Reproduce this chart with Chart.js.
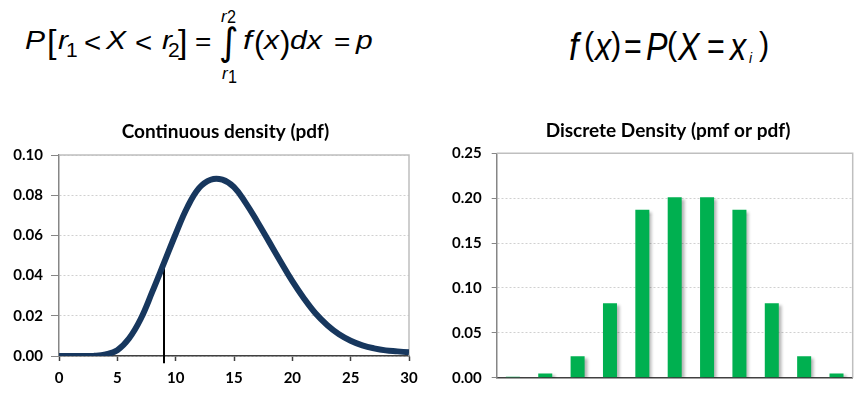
<!DOCTYPE html>
<html>
<head>
<meta charset="utf-8">
<script src="https://cdn.jsdelivr.net/npm/chart.js@4.4.0/dist/chart.umd.min.js"></script>
<style>
  html, body { margin: 0; padding: 0; background: #fff; }
  #page { position: relative; width: 865px; height: 398px; overflow: hidden; background: #fff; }
  .box { position: absolute; }
  .eq { position: absolute; line-height: 1; white-space: nowrap; color: #000; transform-origin: left center; }
</style>
</head>
<body>
<div id="page">
  <div id="eqs"></div>
  <div class="box" style="left:0;top:110px;"><canvas id="pdfChart" width="451" height="288"></canvas></div>
  <div class="box" style="left:440px;top:110px;"><canvas id="pmfChart" width="456" height="288"></canvas></div>
</div>
<script>
// continuous density
const pdfX = [0, 1, 2, 3, 4, 5, 6, 7, 8, 9, 10, 11, 12, 13, 14, 15, 16, 17, 18, 19, 20, 21, 22, 23, 24, 25, 26, 27, 28, 29, 30];
const pdfY = [0, 0, 0, 0.0001, 0.0008, 0.0029, 0.0087, 0.0184, 0.032, 0.0463, 0.0607, 0.074, 0.0835, 0.0877, 0.0877,
              0.084, 0.0762, 0.0668, 0.0569, 0.0469, 0.0372, 0.0286, 0.0211, 0.0153, 0.0108, 0.0076, 0.0053, 0.0038, 0.0028, 0.0023, 0.0018];

// the r1 marker under the curve
const markerX = [9, 9];
const markerY = [-0.0036, 0.0447];

// discrete density bars
const pmfCats = ['0', '1', '2', '3', '4', '5', '6', '7', '8', '9', '10'];
const pmfVals = [0.001, 0.0048, 0.024, 0.083, 0.187, 0.201, 0.201, 0.187, 0.083, 0.024, 0.0048];

const pdfTicks = { min: 0, max: 0.1, step: 0.02 };
const pmfTicks = { min: 0, max: 0.25, step: 0.05 };

// equations as positioned text: [text, left, baseline, size, italic, scaleX, family]
const SANS = '"Liberation Sans", Arial, sans-serif';
const eqLeft = [
  ['P', 25, 49, 25, true, 1.2], ['[', 47, 53, 34, false, 1], ['r', 58, 49, 25, true, 1.2], ['1', 66, 57, 21, false, 1],
  ['<', 84, 53, 28, false, 1.05], ['X', 106, 49, 25, true, 1.2], ['<', 135, 53, 28, false, 1.05],
  ['r', 161.5, 49, 25, true, 1.2], ['2', 168, 57, 21, false, 1], [']', 178, 53, 34, false, 1], ['=', 195, 50, 25, false, 1.12],
  ['\u222B', 219, 55, 38, false, 1, '"DejaVu Sans"'],
  ['r', 221, 22, 17, true, 1], ['2', 226.5, 23.3, 18, false, 0.9], ['r', 222, 79, 17, true, 1], ['1', 227.5, 83.3, 18, false, 0.9],
  ['f', 243, 49, 25, true, 1.3], ['(', 254, 53.5, 31, false, 1], ['x', 264, 49, 25, true, 1.2], [')', 280, 53.5, 31, false, 1],
  ['d', 290, 49, 25, true, 1.2], ['x', 307, 49, 25, true, 1.2], ['=', 334, 50, 25, false, 1.12], ['p', 356, 49, 25, true, 1.2]
];
const eqRight = [
  ['f', 569, 60.5, 38, true, 0.9], ['(', 584, 54.6, 34, false, 0.9], ['x', 595, 60.5, 38, true, 0.85], [')', 611, 54.6, 34, false, 0.9],
  ['=', 624, 60, 38, false, 0.8], ['P', 646, 60.5, 38, true, 0.85], ['(', 667, 54.6, 34, false, 0.9], ['X', 678, 60.5, 38, true, 0.85],
  ['=', 707, 60, 38, false, 0.8], ['x', 730, 60.5, 38, true, 0.85], ['i', 749, 63.3, 14, true, 1], [')', 759, 54.6, 34, false, 0.9]
];

function placeEq(pieces) {
  const host = document.getElementById('eqs');
  pieces.forEach(p => {
    const s = document.createElement('span');
    s.className = 'eq';
    s.textContent = p[0];
    s.style.fontFamily = p[6] || SANS;
    s.style.fontSize = p[3] + 'px';
    s.style.fontStyle = p[4] ? 'italic' : 'normal';
    s.style.left = p[1] + 'px';
    s.style.top = (p[2] - 0.8465 * p[3]) + 'px';
    s.style.transform = 'scaleX(' + p[5] + ')';
    host.appendChild(s);
  });
}
placeEq(eqLeft);
placeEq(eqRight);

const tickFont = { family: 'Lato', size: 15, weight: 'bold' };
const titleFont = { family: 'Lato', size: 19, weight: 'bold' };

// light frame on the top and right of the plot area
const frame = {
  id: 'frame',
  beforeDatasetsDraw(chart) {
    const a = chart.chartArea, ctx = chart.ctx;
    ctx.save();
    ctx.strokeStyle = '#bfbfbf';
    ctx.lineWidth = 1.5;
    ctx.beginPath();
    ctx.moveTo(a.left, a.top);
    ctx.lineTo(a.right, a.top);
    ctx.lineTo(a.right, a.bottom);
    ctx.stroke();
    ctx.restore();
  }
};

// soft drop shadow behind the bars
const barShadow = {
  id: 'barShadow',
  beforeDatasetsDraw(chart) {
    const ctx = chart.ctx;
    ctx.save();
    ctx.shadowColor = 'rgba(0,0,0,0.3)';
    ctx.shadowBlur = 3;
    ctx.shadowOffsetX = 3;
    ctx.shadowOffsetY = 2;
  },
  afterDatasetsDraw(chart) {
    chart.ctx.restore();
  }
};

// empty right-hand axis, only there to keep the title centred where the original has it
function spacer(w) {
  return {
    position: 'right',
    ticks: { display: false },
    grid: { display: false },
    border: { display: false },
    afterFit(s) { s.width = w; }
  };
}

new Chart(document.getElementById('pdfChart'), {
  type: 'line',
  data: {
    datasets: [
      {
        data: pdfX.map((x, i) => ({ x: x, y: pdfY[i] })),
        borderColor: '#17375E',
        borderWidth: 6,
        pointRadius: 0,
        tension: 0.4,
        fill: false
      },
      {
        data: markerX.map((x, i) => ({ x: x, y: markerY[i] })),
        borderColor: '#000',
        borderWidth: 2,
        pointRadius: 0,
        clip: false,
        fill: false
      }
    ]
  },
  options: {
    responsive: false,
    animation: false,
    events: [],
    layout: { padding: 0 },
    plugins: {
      legend: { display: false },
      tooltip: { enabled: false },
      title: {
        display: true,
        text: 'Continuous density (pdf)',
        color: '#000',
        font: titleFont,
        padding: { top: 10.3, bottom: 11.9 }
      }
    },
    scales: {
      x: {
        type: 'linear',
        min: 0,
        max: 30,
        ticks: { stepSize: 5, color: '#000', font: tickFont, padding: 8, maxRotation: 0 },
        grid: { drawOnChartArea: false, tickLength: 5, tickColor: '#404040', tickWidth: 1.5 },
        border: { color: '#404040', width: 1.5 },
        afterFit(s) { s.height = 42; }
      },
      y: {
        min: pdfTicks.min,
        max: pdfTicks.max,
        ticks: { stepSize: pdfTicks.step, color: '#000', font: tickFont, padding: 8, callback: v => v.toFixed(2) },
        grid: { color: '#d0d0d0', tickColor: '#868686', tickLength: 8 },
        border: { color: '#868686', width: 1.5, dash: [2, 2] },
        afterFit(s) { s.width = 59; }
      },
      pad: spacer(42)
    }
  },
  plugins: [frame]
});

new Chart(document.getElementById('pmfChart'), {
  type: 'bar',
  data: {
    labels: pmfCats,
    datasets: [{
      data: pmfVals,
      backgroundColor: '#00B050',
      categoryPercentage: 1,
      barPercentage: 0.433
    }]
  },
  options: {
    responsive: false,
    animation: false,
    events: [],
    layout: { padding: 0 },
    plugins: {
      legend: { display: false },
      tooltip: { enabled: false },
      title: {
        display: true,
        text: 'Discrete Density (pmf or pdf)',
        color: '#000',
        font: titleFont,
        padding: { top: 9.6, bottom: 10.9 }
      }
    },
    scales: {
      x: {
        ticks: { display: false },
        grid: { display: false },
        border: { color: '#404040', width: 1.5 },
        afterFit(s) { s.height = 20.3; }
      },
      y: {
        min: pmfTicks.min,
        max: pmfTicks.max,
        ticks: { stepSize: pmfTicks.step, color: '#000', font: tickFont, padding: 10, callback: v => v.toFixed(2) },
        grid: { color: '#d0d0d0', tickColor: '#868686', tickLength: 5 },
        border: { color: '#868686', width: 1.5, dash: [2, 2] },
        afterFit(s) { s.width = 56.7; }
      },
      pad: spacer(43.3)
    }
  },
  plugins: [frame, barShadow]
});
</script>
</body>
</html>
